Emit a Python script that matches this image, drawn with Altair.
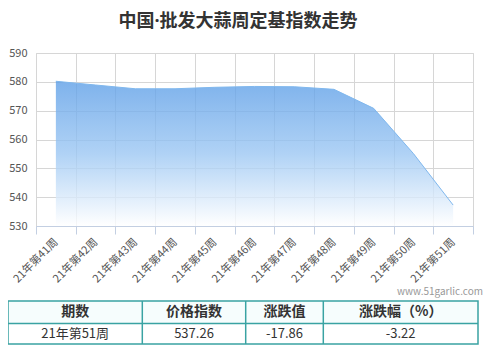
import altair as alt
import pandas as pd

weeks = ["21年第41周", "21年第42周", "21年第43周", "21年第44周", "21年第45周", "21年第46周",
         "21年第47周", "21年第48周", "21年第49周", "21年第50周", "21年第51周"]
index_values = [580.2, 578.9, 577.6, 577.6, 578.1, 578.4, 578.3, 577.4, 570.8, 555.12, 537.26]
y_ticks = [530, 540, 550, 560, 570, 580, 590]

title_text = "中国·批发大蒜周定基指数走势"
table_headers = ["期数", "价格指数", "涨跌值", "涨跌幅（%）"]
table_row = ["21年第51周", "537.26", "-17.86", "-3.22"]
watermark = "www.51garlic.com"

FONT = "Noto Sans CJK SC"
TITLE_FONT = "Open Sans, Noto Sans CJK SC"
TEAL = "#3AA3A3"

df = pd.DataFrame({"week": weeks, "v": index_values})
one = pd.DataFrame({"a": [0]})

X = alt.X("week:N", sort=weeks, bandPosition=0.5,
          scale=alt.Scale(type="band", paddingInner=0, paddingOuter=0),
          axis=alt.Axis(title=None, grid=True, tickBand="extent", labelAngle=315,
                        labelAlign="right", labelBaseline="middle", labelPadding=6,
                        tickSize=8, labelFontSize=11, labelColor="#555555", labelFont=FONT,
                        domainColor="#C3CFE2", tickColor="#C3CFE2", gridColor="#D6D6D6"))
Y = alt.Y("v:Q", scale=alt.Scale(domain=[530, 590], zero=False, nice=False),
          axis=alt.Axis(title=None, values=y_ticks, ticks=False, domain=False, labelPadding=9,
                        labelFontSize=11, labelColor="#555555", labelFont=FONT,
                        gridColor="#D6D6D6"))

grad = alt.Gradient(gradient="linear",
                    stops=[alt.GradientStop(color="#5E9FE7", offset=0),
                           alt.GradientStop(color="#9CC7F3", offset=0.5),
                           alt.GradientStop(color="#FFFFFF", offset=1)],
                    x1=1, x2=1, y1=0, y2=1)

base = alt.Chart(df)
area = base.mark_area(interpolate="linear", color=grad, fillOpacity=0.8).encode(
    x=X, y=Y, y2=alt.datum(530))
line = base.mark_line(interpolate="linear", color="#80B8EE", strokeWidth=1).encode(x=X, y=Y)

layers = [area, line]

# title
layers.append(alt.Chart(one).mark_text(text=title_text, font=TITLE_FONT, fontSize=18,
                                       fontWeight="bold", color="#333333", align="center",
                                       baseline="middle").encode(
    x=alt.value(202), y=alt.value(-31)))

# watermark
layers.append(alt.Chart(one).mark_text(text=watermark, font=FONT, fontSize=10, color="#999999",
                                       align="right", baseline="middle").encode(
    x=alt.value(447), y=alt.value(239)))

# table
t_left, t_right, t_top, t_mid, t_bot = -28, 442, 248, 270.5, 291
col_edges = [-28, 106.3, 209.7, 287.3, 442]
layers.append(alt.Chart(one).mark_rect(fill="#F6FDFD").encode(
    x=alt.value(t_left), x2=alt.value(t_right), y=alt.value(t_top), y2=alt.value(t_mid)))
layers.append(alt.Chart(one).mark_rect(fill="#FFFFFF").encode(
    x=alt.value(t_left), x2=alt.value(t_right), y=alt.value(t_mid), y2=alt.value(t_bot)))
layers.append(alt.Chart(one).mark_rect(fill=None, stroke=TEAL, strokeWidth=1.5).encode(
    x=alt.value(t_left), x2=alt.value(t_right), y=alt.value(t_top), y2=alt.value(t_bot)))
layers.append(alt.Chart(one).mark_rule(color=TEAL, strokeWidth=1.5).encode(
    x=alt.value(t_left), x2=alt.value(t_right), y=alt.value(t_mid)))
for xe in col_edges[1:-1]:
    layers.append(alt.Chart(one).mark_rule(color=TEAL, strokeWidth=1.5).encode(
        x=alt.value(xe), y=alt.value(t_top), y2=alt.value(t_bot)))
for i in range(4):
    cx = (col_edges[i] + col_edges[i + 1]) / 2
    layers.append(alt.Chart(one).mark_text(text=table_headers[i], font=FONT, fontSize=14,
                                           fontWeight="bold", color="#333333", align="center",
                                           baseline="middle").encode(
        x=alt.value(cx), y=alt.value((t_top + t_mid) / 2)))
    layers.append(alt.Chart(one).mark_text(text=table_row[i], font=FONT, fontSize=13,
                                           color="#333333", align="center",
                                           baseline="middle").encode(
        x=alt.value(cx), y=alt.value((t_mid + t_bot) / 2)))

chart = alt.layer(*layers).properties(
    width=437, height=173,
    autosize=alt.AutoSizeParams(type="none"),
    padding={"left": 28, "top": 45, "right": 12, "bottom": 130},
    background="white",
).configure_view(stroke="#D6D6D6")

chart.save("out.html", embed_options={"renderer": "svg", "actions": False})
